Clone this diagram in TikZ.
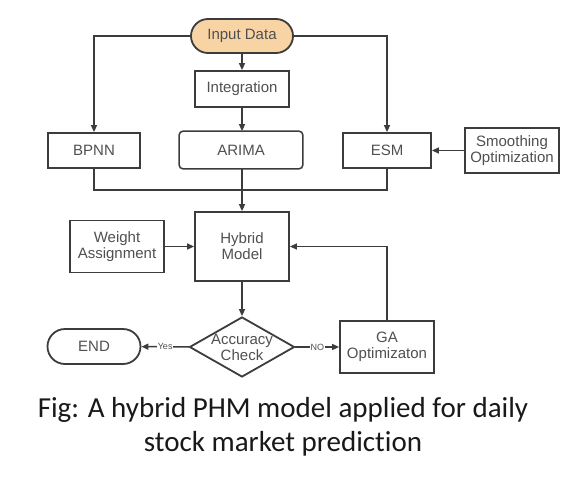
\documentclass[tikz,border=0pt]{standalone}
\usepackage{fontspec}
\setmainfont{Liberation Sans}
\newfontfamily\capfont[Ligatures={NoCommon}]{Carlito}
\usetikzlibrary{arrows.meta, shapes.geometric}

\definecolor{inputfill}{HTML}{F8D3A4}
\definecolor{edgegray}{HTML}{3C3C3C}
\definecolor{textgray}{HTML}{505050}

\tikzset{
  box/.style={draw=edgegray, line width=1.8pt, fill=white, text=textgray,
    align=center, inner sep=0pt, font=\fontsize{15}{16}\selectfont},
  line/.style={draw=edgegray, line width=1.5pt},
  arr/.style={line, -{Triangle[length=7pt,width=6pt]}},
  tag/.style={font=\fontsize{9}{9}\selectfont, text=textgray, fill=white, inner sep=1pt}
}

\begin{document}
\begin{tikzpicture}[x=1pt,y=-1pt]
                  \useasboundingbox (0,0) rectangle (572,476);

                  % top row
                  \node[box, rounded corners=17pt, fill=inputfill, minimum width=102pt, minimum height=34pt] (input) at (242,36) {Input Data};
                  \node[box, minimum width=94pt, minimum height=36pt] (integ) at (242,89) {Integration};

                  % models
                  \node[box, minimum width=92pt, minimum height=35pt] (bpnn) at (94,150.5) {BPNN};
                  \node[box, draw=none, minimum width=122pt, minimum height=36pt] (arima) at (241,150) {ARIMA};
                  \draw[line, rounded corners=4pt] (arima.south west) rectangle (arima.north east);
                  \node[box, minimum width=88pt, minimum height=35pt] (esm) at (387,150.5) {ESM};
                  \node[box, minimum width=94pt, minimum height=45pt] (smooth) at (512,150.5) {Smoothing\\Optimization};

                  % hybrid part
                  \node[box, minimum width=94pt, minimum height=69pt] (hybrid) at (242,246.5) {Hybrid\\Model};
                  \node[box, minimum width=94pt, minimum height=52pt] (weight) at (117,246.5) {Weight\\Assignment};
                  \node[box, diamond, aspect=1.75, minimum width=105pt, minimum height=60pt,
                        label={[text=textgray, align=center, font=\fontsize{15}{16}\selectfont]center:Accuracy\\Check}] (check) at (242,347) {};
                  \node[box, rounded corners=17.5pt, minimum width=93pt, minimum height=35pt] (end) at (94,346.5) {END};
                  \node[box, minimum width=94pt, minimum height=52pt] (ga) at (387,347) {GA\\Optimizaton};

                  \coordinate (merge) at (242,190);

                  \draw[arr] (input.west) -| (bpnn.north);
                  \draw[arr] (input.east) -| (esm.north);
                  \draw[arr] (input) -- (integ);
                  \draw[arr] (integ) -- (integ |- arima.north);
                  \draw[arr] (smooth) -- (esm);
                  \draw[line] (bpnn.south) |- (merge) -| (esm.south);
                  \draw[line] (arima.south -| merge) -- (merge);
                  \draw[arr] (merge) -- (hybrid);
                  \draw[arr] (weight) -- (hybrid);
                  \draw[arr] (hybrid) -- (check);
                  \draw[arr] (check) -- node[tag] {Yes} (end);
                  \draw[arr] (check) -- node[tag] {NO} (ga);
                  \draw[arr] (ga.north) |- (hybrid.east);

                  \node[font=\capfont\fontsize{29}{34}\selectfont, align=center, text=black!90] (caption) at (283,427)
                        {Fig: A hybrid PHM model applied for daily\\stock market prediction};
              \end{tikzpicture}
\end{document}
